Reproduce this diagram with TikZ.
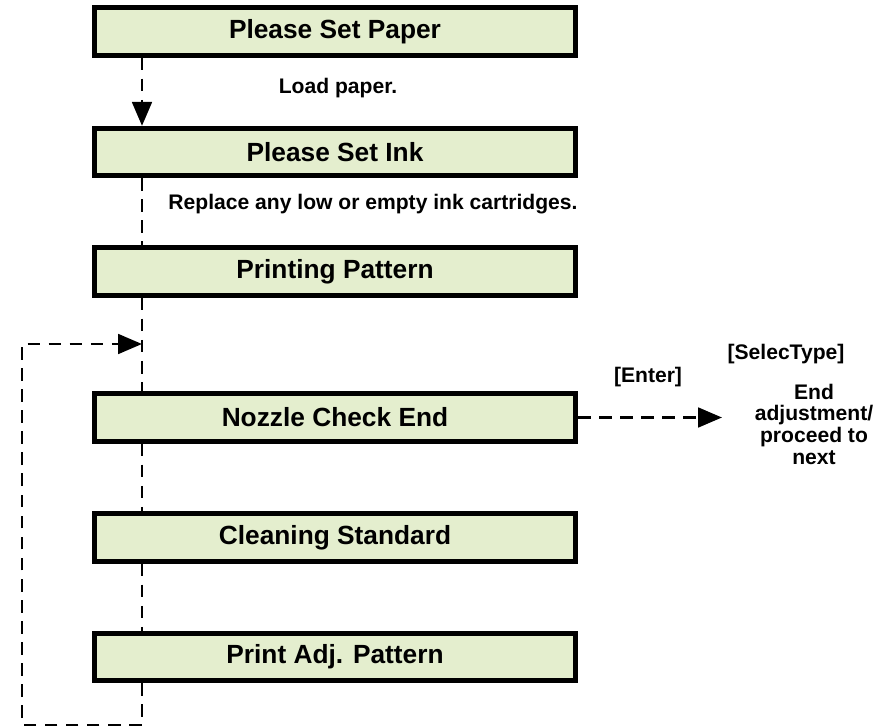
\documentclass[tikz,border=0pt]{standalone}
\usepackage{fontspec}
\setmainfont{Liberation Sans}
\usetikzlibrary{arrows.meta}
\definecolor{boxfill}{RGB}{228,238,206}
\begin{document}
\begin{tikzpicture}[
    x=0.025cm, y=-0.025cm,
    stepbox/.style={draw, line width=3.6pt, fill=boxfill, minimum width=12.02cm, minimum height=1.18cm, inner sep=0pt, font=\fontsize{18.7}{22}\selectfont\bfseries},
    note/.style={font=\fontsize{15}{15.4}\selectfont\bfseries, align=center, inner sep=0pt},
    flow/.style={line width=1.9pt, dash pattern=on 9pt off 6pt},
    flowarr/.style={flow, -{Triangle[length=17pt,width=14pt]}},
  ]
    \useasboundingbox (0,0) rectangle (889,728);

    % --- Steps ---
    \node[stepbox] (paper)   at (335,31.5)  {Please Set Paper};
    \node[stepbox] (ink)     at (335,152)   {Please Set Ink};
    \node[stepbox] (pattern) at (335,271.5) {Printing Pattern};
    \node[stepbox] (nozzle)  at (335,417.5) {Nozzle Check End};
    \node[stepbox] (clean)   at (335,537.5) {Cleaning Standard};
    \node[stepbox] (adjpat)  at (335,657)   {Print Adj. Pattern};

    % --- Notes ---
    \node[note] (loadtxt)  at (338,88)  {Load paper.};
    \node[note] (inktxt)   at (373,204) {Replace any low or empty ink cartridges.};
    \node[note] (entertxt) at (648,377) {[Enter]};
    \node[note] (seltxt)   at (786,354) {[SelecType]};
    \node[note] (endtxt)   at (814,424) {End\\adjustment/\\proceed to\\next};

    % --- Flow ---
    \coordinate (spine)  at (142,0);
    \coordinate (loopin) at (142,344);
    \coordinate (loopbl) at (22,725);
    \coordinate (exitpt) at (722,417.5);
    \draw[flowarr] (paper.south -| spine) -- (ink.north -| spine);
    \draw[flow] (ink.south -| spine) -- (pattern.north -| spine);
    \draw[flow] (pattern.south -| spine) -- (nozzle.north -| spine);
    \draw[flow] (nozzle.south -| spine) -- (clean.north -| spine);
    \draw[flow] (clean.south -| spine) -- (adjpat.north -| spine);
    % loop back: below last step, round the left side, into the spine
    \draw[flowarr] (adjpat.south -| spine) |- (loopbl) |- (loopin);
    \draw[flowarr] (nozzle.east) -- (exitpt);
  \end{tikzpicture}
\end{document}
